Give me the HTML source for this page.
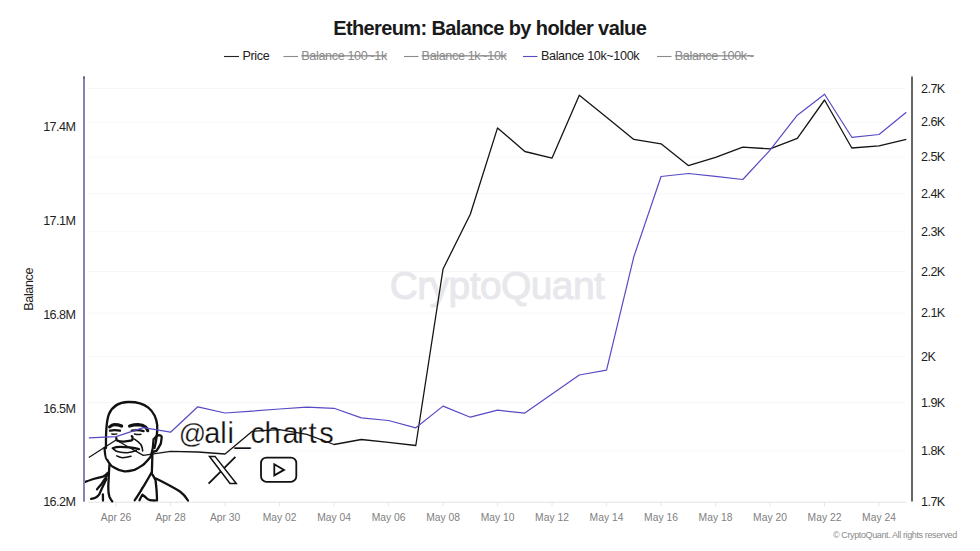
<!DOCTYPE html>
<html><head><meta charset="utf-8"><style>
html,body{margin:0;padding:0;background:#fff;width:980px;height:551px;overflow:hidden}
svg{display:block}
text{font-family:"Liberation Sans",sans-serif}
</style></head><body>
<svg width="980" height="551" viewBox="0 0 980 551">
<rect width="980" height="551" fill="#fff"/>
<text x="333.2" y="35" font-size="20" font-weight="bold" letter-spacing="-0.62" fill="#1a1a1a">Ethereum: Balance by holder value</text>
<g font-size="12.6" letter-spacing="-0.36">
<line x1="224" y1="56.5" x2="239" y2="56.5" stroke="#222" stroke-width="1.1"/>
<text x="242.5" y="59.5" fill="#222">Price</text>
<line x1="283.5" y1="56.5" x2="298" y2="56.5" stroke="#8a8a8a" stroke-width="1.1"/>
<text x="301.3" y="59.5" fill="#8a8a8a" text-decoration="line-through">Balance 100~1k</text>
<line x1="404" y1="56.5" x2="418.5" y2="56.5" stroke="#8a8a8a" stroke-width="1.1"/>
<text x="421.6" y="59.5" fill="#8a8a8a" text-decoration="line-through">Balance 1k~10k</text>
<line x1="523" y1="56.5" x2="537.5" y2="56.5" stroke="#574bc4" stroke-width="1.1"/>
<text x="541" y="59.5" fill="#222">Balance 10k~100k</text>
<line x1="657" y1="56.5" x2="671.5" y2="56.5" stroke="#8a8a8a" stroke-width="1.1"/>
<text x="674.8" y="59.5" fill="#8a8a8a" text-decoration="line-through">Balance 100k~</text>
</g>
<line x1="88" y1="450.9" x2="906" y2="450.9" stroke="#f7f7f7" stroke-width="1"/>
<line x1="88" y1="402.6" x2="906" y2="402.6" stroke="#f7f7f7" stroke-width="1"/>
<line x1="88" y1="356.7" x2="906" y2="356.7" stroke="#f7f7f7" stroke-width="1"/>
<line x1="88" y1="313.1" x2="906" y2="313.1" stroke="#f7f7f7" stroke-width="1"/>
<line x1="88" y1="271.5" x2="906" y2="271.5" stroke="#f7f7f7" stroke-width="1"/>
<line x1="88" y1="231.8" x2="906" y2="231.8" stroke="#f7f7f7" stroke-width="1"/>
<line x1="88" y1="193.7" x2="906" y2="193.7" stroke="#f7f7f7" stroke-width="1"/>
<line x1="88" y1="157.2" x2="906" y2="157.2" stroke="#f7f7f7" stroke-width="1"/>
<line x1="88" y1="122.2" x2="906" y2="122.2" stroke="#f7f7f7" stroke-width="1"/>
<line x1="88" y1="88.4" x2="906" y2="88.4" stroke="#f7f7f7" stroke-width="1"/>

<line x1="88" y1="502.2" x2="906.5" y2="502.2" stroke="#e3e3e3" stroke-width="1"/>
<line x1="116.0" y1="502" x2="116.0" y2="506" stroke="#e6e6e6" stroke-width="1"/>
<line x1="170.6" y1="502" x2="170.6" y2="506" stroke="#e6e6e6" stroke-width="1"/>
<line x1="225.1" y1="502" x2="225.1" y2="506" stroke="#e6e6e6" stroke-width="1"/>
<line x1="279.6" y1="502" x2="279.6" y2="506" stroke="#e6e6e6" stroke-width="1"/>
<line x1="334.1" y1="502" x2="334.1" y2="506" stroke="#e6e6e6" stroke-width="1"/>
<line x1="388.6" y1="502" x2="388.6" y2="506" stroke="#e6e6e6" stroke-width="1"/>
<line x1="443.1" y1="502" x2="443.1" y2="506" stroke="#e6e6e6" stroke-width="1"/>
<line x1="497.6" y1="502" x2="497.6" y2="506" stroke="#e6e6e6" stroke-width="1"/>
<line x1="552.0" y1="502" x2="552.0" y2="506" stroke="#e6e6e6" stroke-width="1"/>
<line x1="606.5" y1="502" x2="606.5" y2="506" stroke="#e6e6e6" stroke-width="1"/>
<line x1="661.0" y1="502" x2="661.0" y2="506" stroke="#e6e6e6" stroke-width="1"/>
<line x1="715.5" y1="502" x2="715.5" y2="506" stroke="#e6e6e6" stroke-width="1"/>
<line x1="770.0" y1="502" x2="770.0" y2="506" stroke="#e6e6e6" stroke-width="1"/>
<line x1="824.5" y1="502" x2="824.5" y2="506" stroke="#e6e6e6" stroke-width="1"/>
<line x1="879.0" y1="502" x2="879.0" y2="506" stroke="#e6e6e6" stroke-width="1"/>

<text x="497" y="299.2" text-anchor="middle" font-size="39" letter-spacing="-0.6" fill="#e8e8ec" stroke="#e8e8ec" stroke-width="1" stroke-linejoin="round">CryptoQuant</text>
<g fill="none" stroke="#111" stroke-width="2.3" stroke-linecap="round" stroke-linejoin="round">
<path d="M106,448 C105.8,436 106.2,421 109,414 C112.5,406 120,402.2 128,402 C135,401.8 143,403.5 148.3,407.6 C153,411.5 156.5,418 157.2,425.2 C157.5,432 156,442 154.5,448"/>
<path d="M104.5,448 C105,455 106,460 107.3,460 C110,465 113,467 113.6,467.2 C118,470 122,471 124.5,471.3 C129,471.5 132,470.5 134.5,469.9 C139,468 141,466 143.6,464.5 C147,461 149,459 150.8,456.3 C153,450 153.5,445 153.6,439.1"/>
<path d="M154.5,438.2 C156,436.5 157,435.5 158.1,435.4 C160,435 161.7,435.5 161.7,437 C161.5,440 161,442 160.8,443.6 C159,447 158,449 156.3,450.9 C155,451.5 153,451.8 152.2,451.8"/>
<path d="M109.6,426.9 C111.5,425.3 112.8,424.7 114,424.7 C117,424.7 120,425.3 121.6,426" stroke-width="3.2"/>
<path d="M129.6,426 C133,425 136,424.7 138.1,424.7 C141,424.8 144,425.8 145.4,426.9 C146.5,428 147.3,429.3 147.7,430.6" stroke-width="3.2"/>
<path d="M110,430.7 Q114.5,429.5 120,430.7"/>
<path d="M111.8,433.9 Q114.5,434.6 116.8,433.9" stroke-width="1.5"/>
<path d="M131.8,430.7 Q138,429.3 143.6,431.1"/>
<path d="M134.5,433.9 Q138,434.8 140.9,434.3" stroke-width="1.5"/>
<path d="M116.3,438 C116.5,440 117,440.7 117.3,440.7 C120,441.6 122,441.6 123.6,441.6 C126,441.4 129,441 130.9,440.7 C132.5,440 133,439 132.7,438 C132.5,437 132.2,436.5 131.8,436.1"/>
<path d="M134.5,439.1 C137.5,441 139.5,443 140.9,444.5 C142,446.5 142.5,449 142.7,450.9" stroke-width="1.6"/>
<path d="M112.7,448.2 C115,447.2 117.5,446.8 120,446.8 C124,446.8 127,447 130,447.3 C134,447.8 137,448.5 139,449.1" stroke-width="2.2"/>
<path d="M113.6,449.1 C115,450.5 116.5,451.5 118.2,451.8 C121,452.5 124,452.7 127.2,452.7 C130.5,452.4 133.5,451.5 136.3,450.4" stroke-width="1.6"/>
<path d="M116.8,455.9 C119,457 121,457.7 122.7,457.7 C125.5,457.7 128.5,457 130.9,456.3" stroke-width="1.6"/>
<path d="M109.5,464.5 C109,470 108.8,476 108.6,480 C108,488 108.5,494 109.4,496.7 C110.5,499 111.5,500.5 112.3,501.4"/>
<path d="M152.5,451.8 C152.2,458 152.2,465 151.8,473"/>
<path d="M151.3,473 C148,479 145.5,483 143,487.2 C140,492 137,497 134.7,500.2"/>
<path d="M85.2,481.9 C88,480.8 91,479.8 93.4,479 C97,478 100,477.2 102.9,476.6 C105,476 106.5,474.5 107.6,473"/>
<path d="M107.6,474.5 C105.5,478 103.5,481 101.7,483.7 C99.5,486.5 98,488 97,489.4"/>
<path d="M106.4,478.9 C104,484 101.5,489 99.3,494.3 C97,497.5 94,498.5 91.1,498.8"/>
<path d="M102.9,494.3 L103,500.5"/>
<path d="M152,474 C153.5,476 154.5,478 155.5,480 C156.5,488 157,495 157,500.5"/>
<path d="M156,478.5 C164,482.5 172,486.5 180,491.5 C184,494.5 186.5,498 188,500.5"/>
<path d="M139.5,500.2 C140.5,498 141.5,496.5 142.4,494.7 C144.5,496 146,497.5 147.5,499 C149,500.5 150,500.5 155,500.5"/>
</g>
<text y="443.2" font-size="29" fill="#111" stroke="#fff" stroke-width="0.25"><tspan x="178.7" font-size="27">@</tspan><tspan x="204.2 220.3 227.6 234.5 250.4 264.6 282.6 297.2 308.4 319.3">ali_charts</tspan></text>
<g fill="none" stroke="#111" stroke-linejoin="miter">
<path d="M235.4,456.8 L208.6,483.6" stroke-width="1.8"/>
<path d="M209.5,456.4 L215,456.4 L236.3,483.5 L230,483.5 Z" stroke-width="1.5" fill="#fff"/>
<rect x="261" y="457.6" width="35.3" height="24.2" rx="5.5" ry="5.5" stroke-width="1.8"/>
<path d="M274.3,464.3 L284,469.9 L274.3,475.4 Z" stroke-width="1.8"/>
</g>

<polyline points="88.80,457.50 116.05,440.00 143.30,455.40 170.55,451.30 197.80,452.00 225.05,454.00 252.30,431.30 279.55,429.70 306.80,434.40 334.05,444.50 361.30,439.50 388.55,442.30 415.80,445.50 443.05,269.00 470.30,214.30 497.55,127.90 524.80,151.50 552.05,158.10 579.30,95.20 606.55,117.20 633.80,139.40 661.05,143.80 688.30,165.60 715.55,157.40 742.80,147.10 770.05,148.90 797.30,138.40 824.55,100.00 851.80,148.00 879.05,145.80 906.30,139.30" fill="none" stroke="#141414" stroke-width="1.3" stroke-linejoin="round"/>
<polyline points="88.80,437.80 116.05,436.60 143.30,427.60 170.55,432.20 197.80,406.80 225.05,413.00 252.30,411.10 279.55,409.00 306.80,407.20 334.05,408.30 361.30,417.90 388.55,420.50 415.80,427.80 443.05,406.10 470.30,417.20 497.55,410.20 524.80,413.10 552.05,393.90 579.30,375.00 606.55,370.10 633.80,256.80 661.05,176.50 688.30,173.50 715.55,176.40 742.80,179.50 770.05,150.20 797.30,115.20 824.55,94.20 851.80,137.30 879.05,134.50 906.30,112.30" fill="none" stroke="#574bc4" stroke-width="1.2" stroke-linejoin="round"/>
<line x1="84" y1="76.5" x2="84" y2="501.8" stroke="#8881b3" stroke-width="2"/>
<rect x="83" y="76.5" width="2" height="2.5" fill="#6a6a78"/>
<line x1="912" y1="76.5" x2="912" y2="501.5" stroke="#666" stroke-width="2"/>
<g font-size="12.6" letter-spacing="-0.55" fill="#1f1f1f">
<text x="75.4" y="131.0" text-anchor="end">17.4M</text>
<text x="75.4" y="225.4" text-anchor="end">17.1M</text>
<text x="75.4" y="319.4" text-anchor="end">16.8M</text>
<text x="75.4" y="412.8" text-anchor="end">16.5M</text>
<text x="75.4" y="506.0" text-anchor="end">16.2M</text>

<text x="921" y="506.1">1.7K</text>
<text x="921" y="455.0">1.8K</text>
<text x="921" y="406.7">1.9K</text>
<text x="921" y="360.8">2K</text>
<text x="921" y="317.2">2.1K</text>
<text x="921" y="275.6">2.2K</text>
<text x="921" y="235.9">2.3K</text>
<text x="921" y="197.8">2.4K</text>
<text x="921" y="161.3">2.5K</text>
<text x="921" y="126.3">2.6K</text>
<text x="921" y="92.5">2.7K</text>

</g>
<text transform="translate(33.2,289.3) rotate(-90)" text-anchor="middle" font-size="12.6" letter-spacing="-0.4" fill="#1f1f1f">Balance</text>
<g font-size="10.3" fill="#808080">
<text x="116.0" y="521" text-anchor="middle">Apr 26</text>
<text x="170.6" y="521" text-anchor="middle">Apr 28</text>
<text x="225.1" y="521" text-anchor="middle">Apr 30</text>
<text x="279.6" y="521" text-anchor="middle">May 02</text>
<text x="334.1" y="521" text-anchor="middle">May 04</text>
<text x="388.6" y="521" text-anchor="middle">May 06</text>
<text x="443.1" y="521" text-anchor="middle">May 08</text>
<text x="497.6" y="521" text-anchor="middle">May 10</text>
<text x="552.0" y="521" text-anchor="middle">May 12</text>
<text x="606.5" y="521" text-anchor="middle">May 14</text>
<text x="661.0" y="521" text-anchor="middle">May 16</text>
<text x="715.5" y="521" text-anchor="middle">May 18</text>
<text x="770.0" y="521" text-anchor="middle">May 20</text>
<text x="824.5" y="521" text-anchor="middle">May 22</text>
<text x="879.0" y="521" text-anchor="middle">May 24</text>

</g>
<text x="833" y="537.8" font-size="9" fill="#8a8a8a" letter-spacing="-0.38">© CryptoQuant. All rights reserved</text>
</svg>
</body></html>
